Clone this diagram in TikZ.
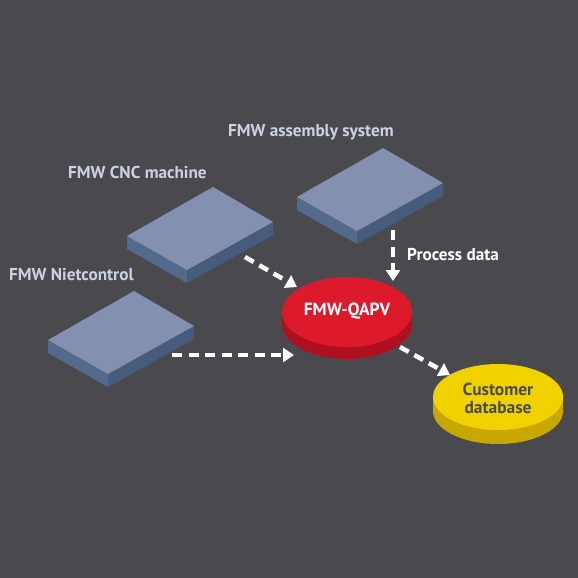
\documentclass[tikz,border=0pt]{standalone}
\usepackage{fontspec}
\setmainfont{PT Sans}
\usetikzlibrary{arrows.meta,shapes.geometric}
\definecolor{bg}{HTML}{4A4A4E}
\definecolor{slabtop}{HTML}{8390B0}
\definecolor{slableft}{HTML}{546A8C}
\definecolor{slabright}{HTML}{475B7C}
\definecolor{redtop}{HTML}{DC1A2C}
\definecolor{redside}{HTML}{AE1020}
\definecolor{yeltop}{HTML}{F0D200}
\definecolor{yelside}{HTML}{C6A800}
\definecolor{lbl}{HTML}{CBD3E2}
\tikzset{
  lab/.style={text=lbl,font=\fontsize{17.2}{20}\selectfont\bfseries,inner sep=0pt},
  flow/.style={draw=white,line width=4.5pt,dash pattern=on 10pt off 6.5pt,-{Triangle[length=11pt,width=14pt]},shorten >=0pt},
}
\newcommand{\slab}[3]{% #1 name, #2 left corner x, #3 y
  \begin{scope}[shift={(#2,#3)}]
    \fill[slableft] (0,0) -- (60,34) -- (60,47) -- (0,13) -- cycle;
    \fill[slabright] (60,34) -- (146,-14) -- (146,-1) -- (60,47) -- cycle;
    \fill[slabtop] (0,0) -- (86,-49) -- (146,-14) -- (60,34) -- cycle;
    \coordinate (#1-front) at (60,47);
    \coordinate (#1-right) at (146,-1);
    \coordinate (#1-c) at (73,-7);
  \end{scope}}
\newcommand{\disk}[7]{% name, cx, cy, rx, ry, t, side colour
  \fill[#7] (#2,#3+#6) ellipse [x radius=#4, y radius=#5];
  \fill[#7] (#2-#4,#3) rectangle (#2+#4,#3+#6);
}
\begin{document}
\begin{tikzpicture}[x=1pt,y=-1pt]
\fill[bg] (0,0) rectangle (578,578);
\useasboundingbox (0,0) rectangle (578,578);
\slab{asm}{297}{197}
\slab{cnc}{127}{236}
\slab{niet}{48}{340}
% red disk
\disk{q}{347}{312}{65}{35}{12}{redside}
\node[ellipse,fill=redtop,minimum width=130pt,minimum height=70pt,inner sep=0pt] (qapv) at (347,312) {};
\node[text=white,font=\fontsize{17.6}{20}\selectfont\bfseries,inner sep=0pt] (qt) at (347,311) {FMW-QAPV};
% yellow disk
\disk{y}{498}{397}{65}{33}{14}{yelside}
\node[ellipse,fill=yeltop,minimum width=130pt,minimum height=66pt,inner sep=0pt] (cdb) at (498,397) {};
\node[text=bg,align=center,font=\fontsize{17.4}{18}\selectfont\bfseries,inner sep=0pt] (ct) at (498,398) {Customer\\database};
% labels
\node[lab,anchor=west] (lasm) at (228,132) {FMW assembly system};
\node[lab,anchor=west] (lcnc) at (68,172) {FMW CNC machine};
\node[lab,anchor=west] (lniet) at (9,275) {FMW Nietcontrol};
\node[lab,anchor=west,text=white] (lproc) at (407,255) {Process data};
% arrows
\coordinate (a1s) at (245,257);
\coordinate (a1e) at (297,287);
\coordinate (a2s) at (172,355);
\coordinate (a2e) at (294,355);
\coordinate (a3s) at (393,230);
\coordinate (a3e) at (393,281);
\coordinate (a4s) at (400,347);
\coordinate (a4e) at (450,375);
\draw[flow] (a1s) -- (a1e);
\draw[flow] (a2s) -- (a2e);
\draw[flow] (a3s) -- (a3e);
\draw[flow] (a4s) -- (a4e);
\end{tikzpicture}
\end{document}
